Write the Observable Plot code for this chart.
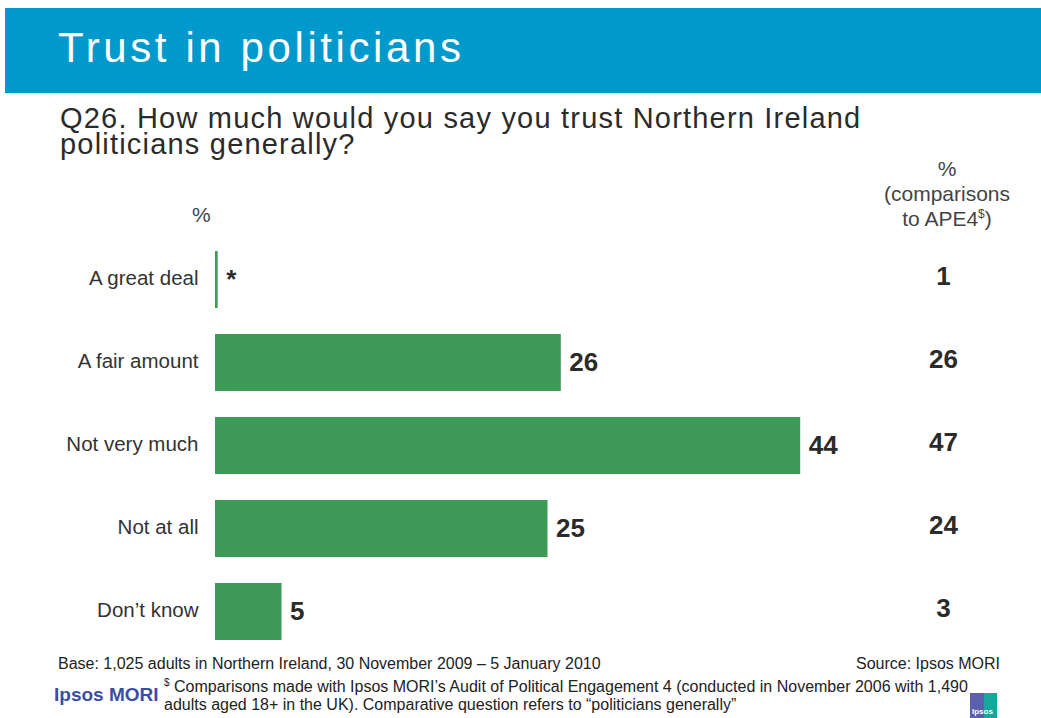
<!DOCTYPE html>
<html>
<head>
<meta charset="utf-8">
<script src="https://cdn.jsdelivr.net/npm/d3@7"></script>
<script src="https://cdn.jsdelivr.net/npm/@observablehq/plot@0.6"></script>
<style>
  html, body { margin: 0; padding: 0; background: #fff; }
  body { width: 1041px; height: 718px; position: relative; overflow: hidden; font-family: "Liberation Sans", Arial, sans-serif; color: #333; }
  .abs { position: absolute; }
  #header { left: 5px; top: 8px; width: 1036px; height: 85px; background: #0099CC; }
  #title { left: 58px; top: 24px; font-size: 42px; color: #fff; letter-spacing: 3.6px; white-space: nowrap; }
  .q { left: 60px; font-size: 29px; line-height: 24px; letter-spacing: 1.2px; color: #2b2b2b; white-space: nowrap; }
  #q1 { top: 106px; }
  #q2 { top: 132px; }
  #pct { left: 192px; top: 203px; font-size: 21px; color: #444; }
  #cmp { left: 860px; top: 156px; width: 174px; text-align: center; font-size: 21px; line-height: 25px; color: #444; }
  #cmp sup { font-size: 12px; vertical-align: 8px; line-height: 0; }
  #chart { left: 0; top: 180px; }
  #base { left: 58px; top: 655px; font-size: 16px; color: #222; white-space: nowrap; }
  #source { right: 41px; top: 655px; font-size: 16px; color: #222; white-space: nowrap; }
  #note { left: 164px; top: 678px; font-size: 16px; line-height: 18px; color: #222; white-space: nowrap; }
  #note sup { font-size: 10px; vertical-align: 6px; line-height: 0; }
  #brand { left: 54px; top: 684px; font-size: 19px; font-weight: bold; color: #3a4fa3; white-space: nowrap; }
  #logo { left: 970px; top: 693px; width: 27px; height: 25px; background: linear-gradient(90deg, #5b5fae 0 50%, #17a89b 50% 100%); }
  #logo span { position: absolute; left: 2px; bottom: 2px; font-size: 8px; color: #fff; font-weight: bold; }
</style>
</head>
<body>
<div id="header" class="abs"></div>
<div id="title" class="abs">Trust in politicians</div>
<div id="q1" class="abs q">Q26. How much would you say you trust Northern Ireland</div>
<div id="q2" class="abs q">politicians generally?</div>
<div id="pct" class="abs">%</div>
<div id="cmp" class="abs">%<br>(comparisons<br>to APE4<sup>$</sup>)</div>
<div id="chart" class="abs"></div>
<div id="base" class="abs">Base: 1,025 adults in Northern Ireland, 30 November 2009 – 5 January 2010</div>
<div id="source" class="abs">Source: Ipsos MORI</div>
<div id="brand" class="abs">Ipsos MORI</div>
<div id="note" class="abs"><sup>$</sup> Comparisons made with Ipsos MORI’s Audit of Political Engagement 4 (conducted in November 2006 with 1,490<br>adults aged 18+ in the UK). Comparative question refers to “politicians generally”</div>
<div id="logo" class="abs"><span>Ipsos</span></div>
<script>
const categories = ["A great deal", "A fair amount", "Not very much", "Not at all", "Don’t know"];
const values = [0.2, 26, 44, 25, 5];
const valueLabels = ["*", "26", "44", "25", "5"];
const comparisons = [1, 26, 47, 24, 3];

const data = categories.map((c, i) => ({
  category: c,
  value: values[i],
  label: valueLabels[i],
  comparison: String(comparisons[i])
}));

const chart = Plot.plot({
  width: 1041,
  height: 490,
  marginTop: 44,
  marginBottom: 4,
  marginLeft: 215,
  marginRight: 28,
  x: { domain: [0, 60], axis: null },
  y: { domain: categories, padding: 0.315, label: null, tickSize: 0, tickPadding: 17 },
  style: { fontFamily: "Liberation Sans, Arial, sans-serif", color: "#333", overflow: "visible" },
  marks: [
    Plot.axisY({ tickSize: 0, tickPadding: 17, fontSize: 20.5, fill: "#333", label: null, dy: -2 }),
    Plot.barX(data, { x: "value", y: "category", fill: "#3d9a57" }),
    Plot.text(data, { x: "value", y: "category", text: "label", textAnchor: "start", dx: 8, fontSize: 26, fontWeight: "bold", fill: "#2b2b2b" }),
    Plot.text(data, { y: "category", text: "comparison", frameAnchor: "right", textAnchor: "middle", dx: -70, dy: -3, fontSize: 26, fontWeight: "bold", fill: "#2b2b2b" })
  ]
});
document.getElementById("chart").appendChild(chart);
</script>
</body>
</html>
